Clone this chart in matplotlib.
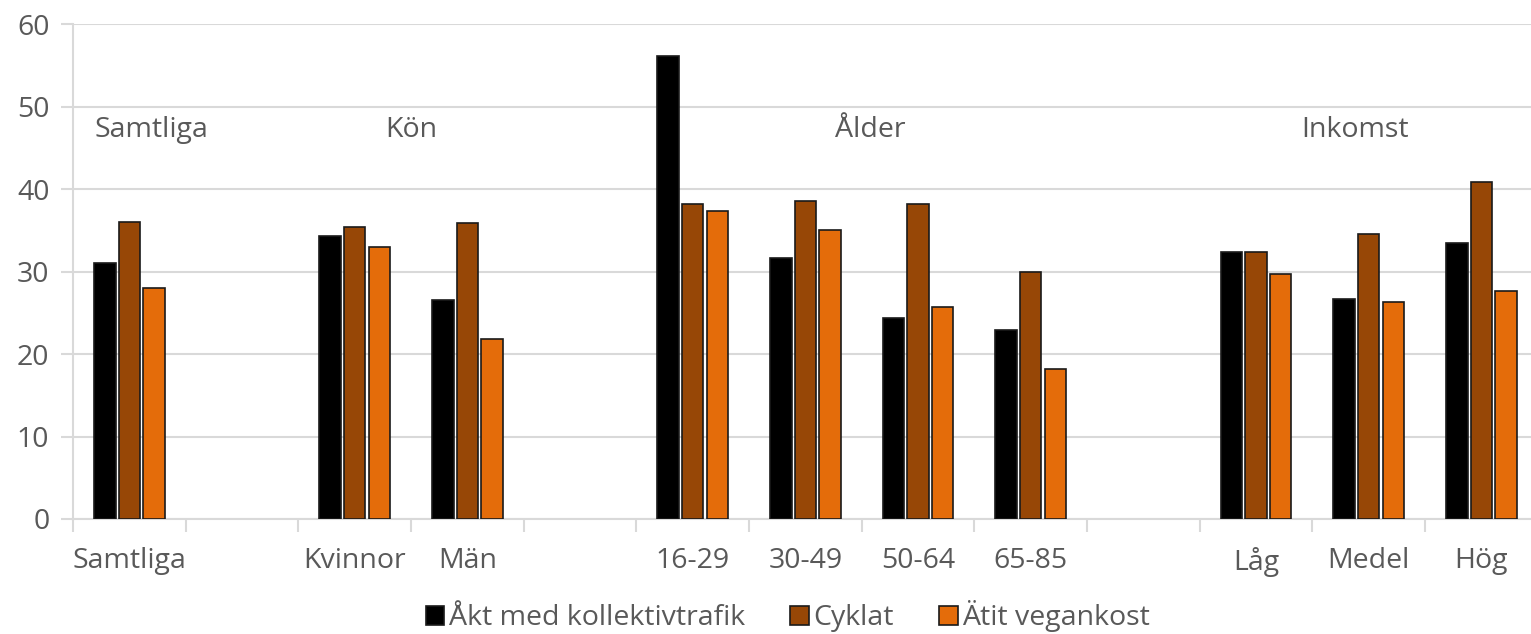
import matplotlib
matplotlib.use("Agg")
import matplotlib.pyplot as plt
import numpy as np

# ---------- data ----------
slots = ["Samtliga", "", "Kvinnor", "Män", "", "16-29", "30-49", "50-64", "65-85",
         "", "Låg", "Medel", "Hög"]
kollektiv = [31.0, np.nan, 34.3, 26.6, np.nan, 56.1, 31.6, 24.4, 22.9, np.nan, 32.4, 26.7, 33.5]
cyklat    = [36.0, np.nan, 35.4, 35.9, np.nan, 38.2, 38.5, 38.2, 30.0, np.nan, 32.4, 34.5, 40.8]
vegan     = [28.0, np.nan, 33.0, 21.8, np.nan, 37.3, 35.0, 25.7, 18.2, np.nan, 29.7, 26.3, 27.6]
series_names = ["Åkt med kollektivtrafik", "Cyklat", "Ätit vegankost"]
colors = ["#000000", "#974706", "#e46c0a"]
groups = [("Samtliga", 0.2), ("Kön", 2.5), ("Ålder", 6.58), ("Inkomst", 10.88)]

TXT = "#595959"
GRID = "#d9d9d9"
plt.rcParams["font.family"] = ["Open Sans", "DejaVu Sans"]

fig = plt.figure(figsize=(15.31, 6.34), dpi=100)
# the plot area runs a little past the right edge of the picture
ax = fig.add_axes([0.0477, 0.1814, 0.9567, 0.7806])

x = np.arange(len(slots))
w = 0.19
step = 0.218
for i, (vals, c, name) in enumerate(zip([kollektiv, cyklat, vegan], colors, series_names)):
    ax.bar(x + (i - 1) * step, vals, width=w, color=c, edgecolor="#1a1a1a",
           linewidth=1.2, label=name, zorder=3)

for name, gx in groups:
    ax.text(gx, 47.2, name, ha="center", va="center", fontsize=20.5, color=TXT)

ax.set_xlim(-0.5, len(slots) - 0.5)
ax.set_ylim(0, 60)
ax.set_yticks(range(0, 61, 10))
ax.yaxis.grid(True, color=GRID, linewidth=1.5, zorder=0)
ax.set_axisbelow(True)

ax.set_xticks(x)
ax.set_xticklabels(slots)
ax.set_xticks(np.arange(-0.5, len(slots), 1), minor=True)
ax.tick_params(axis="x", which="major", length=0, pad=20, labelsize=20.5, labelcolor=TXT)
ax.tick_params(axis="x", which="minor", length=9, width=1.5, color=GRID)
ax.tick_params(axis="y", length=9, width=1.5, color=GRID, labelsize=20.5,
               labelcolor=TXT, pad=8)

for s in ["top", "right"]:
    ax.spines[s].set_visible(False)
ax.spines["left"].set_color(GRID)
ax.spines["left"].set_linewidth(1.5)
ax.spines["bottom"].set_color(GRID)
ax.spines["bottom"].set_linewidth(1.5)

fig.legend(loc="lower center", bbox_to_anchor=(0.5145, -0.038), ncol=3, frameon=False,
           fontsize=20.5, labelcolor=TXT, handlelength=0.65, handleheight=0.65,
           handletextpad=0.15, columnspacing=1.6)

fig.savefig("out.png", dpi=100)
